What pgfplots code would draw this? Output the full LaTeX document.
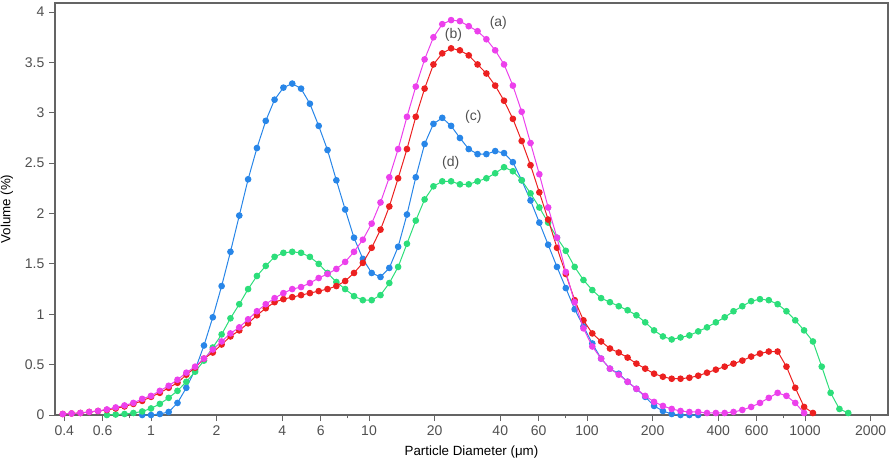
\documentclass[border=0pt]{standalone}
\usepackage{fontspec}
\setmainfont{Liberation Sans}
\usepackage{pgfplots}
\usepackage{pgfplotstable}
\pgfplotsset{compat=1.18}
\definecolor{cA}{RGB}{236,64,236}
\definecolor{cB}{RGB}{236,32,32}
\definecolor{cC}{RGB}{40,134,232}
\definecolor{cD}{RGB}{44,222,122}
\definecolor{txt}{RGB}{80,80,80}
\definecolor{axc}{RGB}{100,100,100}
\pgfplotstableread{
x a b c d
0.3937 0.01 0.01 nan nan
0.4321 0.015 0.015 nan nan
0.4743 0.02 0.02 nan nan
0.5207 0.03 0.03 nan nan
0.5716 0.04 0.04 nan nan
0.6274 0.055 0.05 nan 0
0.6887 0.075 0.065 nan 0.005
0.7560 0.095 0.085 nan 0.01
0.8299 0.12 0.11 nan 0.02
0.9110 0.16 0.14 0 0.035
1.0000 0.19 0.18 0 0.065
1.0977 0.24 0.22 0.01 0.11
1.2050 0.29 0.27 0.03 0.17
1.3227 0.35 0.32 0.12 0.24
1.4520 0.42 0.40 0.27 0.33
1.5938 0.48 0.47 0.45 0.43
1.7496 0.56 0.56 0.69 0.54
1.9205 0.65 0.62 0.97 0.67
2.1082 0.73 0.70 1.28 0.80
2.3142 0.81 0.78 1.62 0.96
2.5403 0.87 0.84 1.98 1.10
2.7885 0.95 0.91 2.34 1.25
3.0610 1.03 0.99 2.65 1.38
3.3600 1.10 1.06 2.92 1.48
3.6883 1.16 1.12 3.13 1.57
4.0487 1.21 1.15 3.25 1.61
4.4443 1.25 1.17 3.29 1.62
4.8785 1.27 1.19 3.24 1.61
5.3551 1.31 1.21 3.09 1.57
5.8784 1.36 1.23 2.87 1.50
6.4527 1.40 1.25 2.63 1.41
7.0831 1.45 1.28 2.33 1.32
7.7751 1.52 1.33 2.04 1.25
8.5347 1.62 1.41 1.76 1.18
9.3686 1.74 1.51 1.55 1.14
10.284 1.90 1.66 1.41 1.14
11.289 2.11 1.84 1.37 1.19
12.392 2.36 2.07 1.46 1.31
13.602 2.64 2.35 1.67 1.47
14.931 2.96 2.64 1.99 1.70
16.390 3.26 2.96 2.36 1.93
17.991 3.53 3.24 2.69 2.14
19.749 3.75 3.48 2.89 2.27
21.679 3.88 3.59 2.95 2.32
23.797 3.92 3.64 2.87 2.32
26.122 3.91 3.62 2.75 2.29
28.674 3.86 3.57 2.64 2.29
31.476 3.81 3.48 2.59 2.32
34.551 3.73 3.39 2.59 2.35
37.926 3.62 3.27 2.62 2.40
41.632 3.48 3.12 2.60 2.46
45.700 3.27 2.94 2.51 2.42
50.165 3.01 2.72 2.33 2.33
55.066 2.70 2.48 2.13 2.20
60.446 2.39 2.21 1.91 2.06
66.352 2.06 1.94 1.69 1.91
72.834 1.76 1.66 1.47 1.76
79.950 1.42 1.40 1.26 1.63
87.761 1.12 1.14 1.05 1.47
96.336 0.86 0.94 0.88 1.34
105.75 0.68 0.81 0.71 1.24
116.08 0.56 0.73 0.56 1.16
127.42 0.46 0.66 0.46 1.12
139.87 0.40 0.62 0.41 1.08
153.54 0.33 0.57 0.33 1.04
168.54 0.26 0.51 0.26 0.99
185.00 0.19 0.46 0.18 0.92
203.08 0.13 0.41 0.09 0.84
222.92 0.09 0.38 0.04 0.78
244.70 0.06 0.36 0.01 0.75
268.61 0.04 0.36 0 0.77
294.85 0.03 0.37 0 0.79
323.66 0.03 0.39 0 0.83
355.28 0.02 0.42 nan 0.87
390.00 0.02 0.45 nan 0.92
428.10 0.02 0.48 nan 0.97
469.93 0.03 0.51 nan 1.03
515.84 0.05 0.54 nan 1.08
566.24 0.08 0.58 nan 1.13
621.56 0.12 0.61 nan 1.15
682.29 0.17 0.63 nan 1.14
748.95 0.22 0.63 nan 1.10
822.13 0.19 0.48 nan 1.03
902.45 0.12 0.27 nan 0.94
990.60 0.02 0.08 nan 0.84
1087.4 nan 0.02 nan 0.73
1193.6 nan nan nan 0.48
1310.3 nan nan nan 0.22
1438.3 nan nan nan 0.06
1578.8 nan nan nan 0.02
}\psd
\begin{document}
\begin{tikzpicture}
\useasboundingbox (-41.25pt,-35.25pt) rectangle (629.25pt,311.25pt);
\begin{axis}[
  scale only axis,
  width=624.75pt, height=309pt,
  xmode=log, log basis x=10,
  xmin=0.3627, xmax=2403,
  ymin=0, ymax=4.09,
  clip mode=individual,
  axis line style={axc, line width=0.8pt},
  tick style={axc, line width=0.7pt},
  tick align=outside,
  xtick pos=bottom, ytick pos=left,
  major tick length=4.5pt,
  minor tick length=2.5pt,
  xtick={0.4,0.6,1,2,4,6,10,20,40,60,100,200,400,600,1000,2000},
  xticklabels={0.4,0.6,1,2,4,6,10,20,40,60,100,200,400,600,1000,2000},
  minor xtick={0.8,8,80,800},
  ytick={0,0.5,1,1.5,2,2.5,3,3.5,4},
  yticklabels={0,0.5,1,1.5,2,2.5,3,3.5,4},
  tick label style={font=\fontsize{10.5}{12}\selectfont, text=txt},
  label style={font=\fontsize{10.5}{12}\selectfont, text=txt},
  xlabel={Particle Diameter (μm)},
  ylabel={Volume (\%)},
  every axis x label/.style={at={(axis description cs:0.5,-0.0898)}, anchor=center},
  every axis y label/.style={at={(axis description cs:-0.0576,0.5)}, anchor=center, rotate=90},
  every axis plot/.append style={line width=0.75pt, mark=*, mark size=2.1pt},
]
\addplot[cC, mark options={fill=cC, draw=cC}] table[x=x, y=c] {\psd};
\addplot[cD, mark options={fill=cD, draw=cD}] table[x=x, y=d] {\psd};
\addplot[cB, mark options={fill=cB, draw=cB}] table[x=x, y=b] {\psd};
\addplot[cA, mark options={fill=cA, draw=cA}] table[x=x, y=a] {\psd};
\node[font=\fontsize{10.5}{12}\selectfont, text=txt] at (axis cs:39.2,3.89) {(a)};
\node[font=\fontsize{10.5}{12}\selectfont, text=txt] at (axis cs:24.4,3.77) {(b)};
\node[font=\fontsize{10.5}{12}\selectfont, text=txt] at (axis cs:30.1,2.96) {(c)};
\node[font=\fontsize{10.5}{12}\selectfont, text=txt] at (axis cs:23.7,2.50) {(d)};
\end{axis}
\end{tikzpicture}
\end{document}
